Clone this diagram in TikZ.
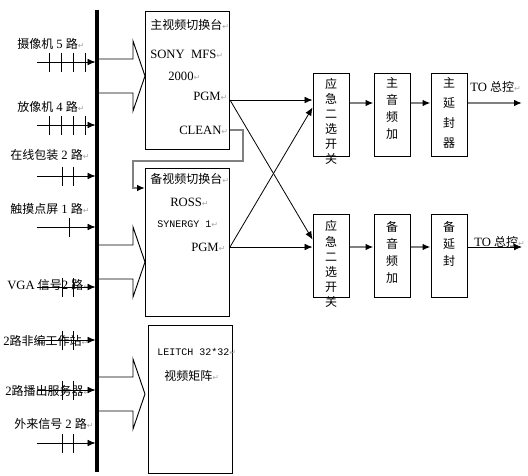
\documentclass[tikz,border=0pt]{standalone}
\usepackage{fontspec}
\setmainfont{Liberation Serif}
\newfontfamily\zhfont{Noto Sans CJK SC}
\newfontfamily\codefont{Liberation Mono}
\newfontfamily\markfont{DejaVu Sans}
\usetikzlibrary{positioning, calc, arrows.meta}
\definecolor{feedgray}{HTML}{808080}
\definecolor{markgray}{HTML}{A8A8A8}
\newcommand{\zh}[1]{{\zhfont\fontsize{9}{11}\selectfont #1}}
\newcommand{\rmk}{{\markfont\fontsize{6}{6}\selectfont\color{markgray}↵}}

\begin{document}
\begin{tikzpicture}[x=0.75pt, y=-0.75pt, >={Latex[length=6pt,width=5pt]},
  font=\fontsize{9.5}{11}\selectfont,
  box/.style={draw, line width=0.75pt, minimum width=63pt, inner sep=0, anchor=north west},
  sbox/.style={draw, line width=0.75pt, minimum width=27pt, minimum height=62.25pt, inner sep=0},
  vtext/.style={font=\zhfont\fontsize{9}{#1}\selectfont, align=center, anchor=north, inner sep=0},
  lbl/.style={anchor=west, inner sep=0},
  feed/.style={->, draw=black, line width=0.6pt},
  chain/.style={draw=feedgray, line width=1.3pt, -{Latex[length=6pt,width=5pt,color=black]}},
  hollow/.style={draw, line width=0.7pt}]

\useasboundingbox (0,0) rectangle (528,475);

% Input bus
\coordinate (bustop) at (97,10);
\coordinate (busbot) at (97,472);
\draw[line width=2.3pt] (bustop) -- (busbot);

% Sources
\node[lbl] (cam) at (17,44) {\zh{摄像机} 5 \zh{路}\rmk};
\node[lbl] (vtr) at (17,107) {\zh{放像机} 4 \zh{路}\rmk};
\node[lbl] (pack) at (10,155) {\zh{在线包装} 2 \zh{路}\rmk};
\node[lbl] (touch) at (10,209) {\zh{触摸点屏} 1 \zh{路}\rmk};
\node[lbl] (vga) at (7,285) {VGA \zh{信号}2 \zh{路}\rmk};
\node[lbl] (nle) at (3,341) {2\zh{路非编工作站}\rmk};
\node[lbl] (server) at (5,391) {2\zh{路播出服务器}\rmk};
\node[lbl] (ext) at (14,424) {\zh{外来信号} 2 \zh{路}\rmk};

\foreach \yy/\ticks [count=\i] in {62/{49,61,73,85}, 125/{49,61,73,85}, 176/{62,73}, 227/{69},
    287/{62,73}, 340/{62,73}, 390/{62,73}, 443/{62,73}}{
  \coordinate (in\i) at (37,\yy);
  \draw[feed, shorten >=1.1pt] (in\i) -- (in\i -| bustop);
  \foreach \tx in \ticks
    \draw[line width=0.6pt] (\tx,\yy-9.5) -- (\tx,\yy+9.5);
}

% Hollow arrows from bus
\foreach \yc in {76,262,394}
  \draw[hollow] (97,\yc-17) -- (133,\yc-17) -- (133,\yc-35) -- (145,\yc) -- (133,\yc+35) -- (133,\yc+17) -- (97,\yc+17);

% Switchers and matrix
\node[box, minimum height=103.5pt] (mainsw) at (145,11) {};
\node[box, minimum height=111pt] (bkpsw) at (145,168) {};
\node[box, minimum height=111pt] (matrix) at (148,325) {};

\node[lbl] (maintitle) at ($(mainsw.north west)+(5,14)$) {\zh{主视频切换台}\rmk};
\node[lbl] (sony) at ($(mainsw.north west)+(5,43)$) {SONY\ \ MFS\rmk};
\node[lbl] (sonyver) at ($(mainsw.north west)+(23,65)$) {2000\rmk};
\node[lbl] (pgmmain) at ($(mainsw.north west)+(48,85)$) {PGM\rmk};
\node[lbl] (clean) at ($(mainsw.north west)+(34,119)$) {CLEAN\rmk};

\node[lbl] (bkptitle) at ($(bkpsw.north west)+(5,11)$) {\zh{备视频切换台}\rmk};
\node[lbl] (ross) at ($(bkpsw.north west)+(25,34)$) {ROSS\rmk};
\node[lbl] (synergy) at ($(bkpsw.north west)+(12,56)$) {\codefont\fontsize{7.5}{9}\selectfont SYNERGY 1\rmk};
\node[lbl] (pgmbkp) at ($(bkpsw.north west)+(46,79)$) {PGM\rmk};

\node[lbl] (leitch) at ($(matrix.north west)+(9,27)$) {\codefont\fontsize{7.5}{9}\selectfont LEITCH 32*32\rmk};
\node[lbl] (mtxname) at ($(matrix.north west)+(16,51)$) {\zh{视频矩阵}\rmk};

% Clean feed to backup switcher
\draw[draw=feedgray, line width=1.2pt, -{Latex[length=6pt,width=5pt,color=black]}]
  (clean.east -| mainsw.east) -| ($(mainsw.south east)+(13,11)$) -| ($(bkpsw.north west)+(-12,20)$)
  -- ($(bkpsw.north west)+(0,20)$);

% Output chains
\node[sbox] (emg1) at (331,114.5) {};
\node[sbox, right=18pt of emg1] (aud1) {};
\node[sbox, right=15pt of aud1] (dly1) {};
\node[sbox] (emg2) at (331,255.5) {};
\node[sbox, right=18pt of emg2] (aud2) {};
\node[sbox, right=15pt of aud2] (dly2) {};

\node[vtext=11.25pt] (emg1txt) at ($(emg1.north)+(0,6)$) {应\\急\\二\\选\\开\\关};
\node[vtext=12.75pt] (aud1txt) at ($(aud1.north)+(0,5)$) {主\\音\\频\\加};
\node[vtext=15pt] (dly1txt) at ($(dly1.north)+(0,5)$) {主\\延\\封\\器};
\node[vtext=11.4pt] (emg2txt) at ($(emg2.north)+(0,7)$) {应\\急\\二\\选\\开\\关};
\node[vtext=12.75pt] (aud2txt) at ($(aud2.north)+(0,8)$) {备\\音\\频\\加};
\node[vtext=12.75pt] (dly2txt) at ($(dly2.north)+(0,8)$) {备\\延\\封};

\coordinate (pgmA) at ($(mainsw.north east)+(0,89)$);
\coordinate (pgmB) at ($(bkpsw.north east)+(0,79)$);
\draw[feed] (pgmA) -- (pgmA -| emg1.west);
\draw[feed] (pgmA) -- ($(emg2.north west)+(0,26)$);
\draw[feed] (pgmB) -- (pgmB -| emg2.west);
\draw[feed] (pgmB) -- ($(emg1.north west)+(0,35)$);

\coordinate (row1) at (0,103);
\coordinate (row2) at (0,247);
\coordinate (out1) at (522,103);
\coordinate (out2) at (522,247);
\draw[chain] (emg1.east |- row1) -- (aud1.west |- row1);
\draw[chain] (aud1.east |- row1) -- (dly1.west |- row1);
\draw[chain] (dly1.east |- row1) -- (out1);
\draw[chain] (emg2.east |- row2) -- (aud2.west |- row2);
\draw[chain] (aud2.east |- row2) -- (dly2.west |- row2);
\draw[feed] (dly2.east |- row2) -- (out2);

\node[lbl] (to1) at (470,87) {TO \zh{总控}\rmk};
\node[lbl] (to2) at (474,242) {TO \zh{总控}\rmk};
\end{tikzpicture}
\end{document}
